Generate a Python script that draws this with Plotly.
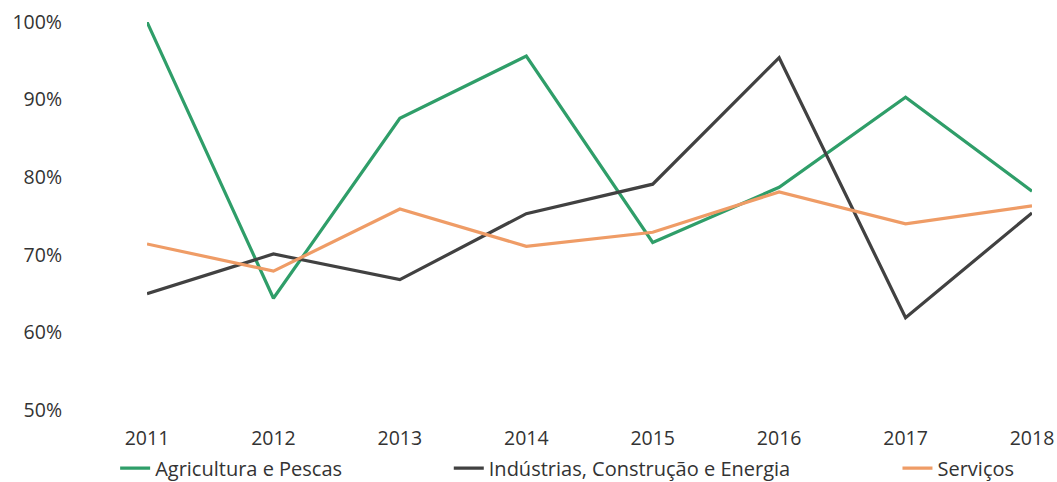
import plotly.graph_objects as go

anos = ["2011", "2012", "2013", "2014", "2015", "2016", "2017", "2018"]
agricultura = [1.000, 0.644, 0.876, 0.956, 0.716, 0.787, 0.903, 0.782]
industrias = [0.650, 0.701, 0.668, 0.753, 0.791, 0.954, 0.619, 0.754]
servicos = [0.714, 0.679, 0.759, 0.711, 0.729, 0.781, 0.740, 0.763]

y_ticks = [0.5, 0.6, 0.7, 0.8, 0.9, 1.0]

series = [
    ("Agricultura e Pescas", agricultura, "#2f9e69", "legend"),
    ("Indústrias, Construção e Energia", industrias, "#414141", "legend2"),
    ("Serviços", servicos, "#ef9c66", "legend3"),
]

fig = go.Figure()
for nome, valores, cor, leg in series:
    fig.add_trace(go.Scatter(
        x=anos, y=valores, name=nome, mode="lines",
        line=dict(color=cor, width=3.2),
        legend=leg,
    ))

tick_font = dict(family="Open Sans", size=19.5, color="#333333")
legend_common = dict(orientation="h", yanchor="middle", xanchor="left",
                     font=dict(family="Open Sans", size=20, color="#333333"),
                     bgcolor="rgba(0,0,0,0)", borderwidth=0,
                     itemwidth=30)

fig.update_layout(
    width=1057, height=482,
    margin=dict(l=147, r=25, t=22, b=72, autoexpand=False),
    paper_bgcolor="white", plot_bgcolor="white",
    font=tick_font,
    showlegend=True,
    xaxis=dict(type="category", range=[0, 7], showgrid=False, showline=False,
               zeroline=False, ticks="", ticklabelstandoff=14,
               tickfont=tick_font),
    yaxis=dict(range=[0.5, 1.0], tickvals=y_ticks, tickformat=".0%",
               showgrid=False, showline=False, zeroline=False, ticks="",
               ticklabelstandoff=84,
               tickfont=tick_font),
    legend=dict(x=-0.036, y=-0.15, **legend_common),
    legend2=dict(x=0.341, y=-0.15, **legend_common),
    legend3=dict(x=0.848, y=-0.15, **legend_common),
)

fig.write_html("out.html")
